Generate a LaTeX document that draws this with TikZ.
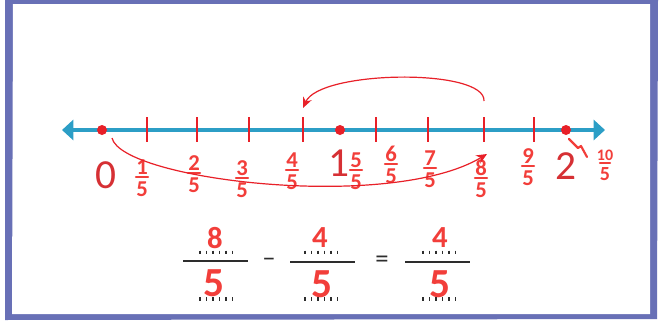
\documentclass[tikz,border=0pt]{standalone}
\usepackage{fontspec}
\setmainfont{Carlito}
\usetikzlibrary{arrows.meta}
\definecolor{framepurple}{RGB}{104,112,182}
\definecolor{axisblue}{RGB}{44,158,198}
\definecolor{dotred}{RGB}{232,32,40}
\definecolor{labred}{RGB}{214,48,52}
\definecolor{handred}{RGB}{242,62,58}
\definecolor{inkgray}{RGB}{45,45,45}
\begin{document}
\begin{tikzpicture}[x=0.75pt,y=-0.75pt,
  tickmark/.style={draw=dotred, line width=2pt},
  dotnode/.style={circle, fill=dotred, inner sep=0pt, minimum size=7.5pt},
  bignum/.style={text=labred, font=\fontsize{31}{31}\selectfont, inner sep=0pt},
  fracdig/.style={text=handred, font=\bfseries\fontsize{17}{17}\selectfont, inner sep=0pt},
  fracbar/.style={draw=handred, line width=1.7pt, line cap=round},
  jump/.style={draw=dotred, line width=0.9pt, -{Stealth[length=8pt,width=7pt]}},
  eqnum/.style={text=handred, font=\bfseries\fontsize{23}{23}\selectfont, inner sep=0pt},
  eqden/.style={text=handred, font=\bfseries\fontsize{31}{31}\selectfont, inner sep=0pt},
  eqbar/.style={draw=inkgray, line width=1.1pt},
  eqsign/.style={text=inkgray, font=\fontsize{20}{20}\selectfont, inner sep=0pt},
  blankmark/.style={draw=inkgray, line width=1.3pt}
]
\useasboundingbox (0,0) rectangle (672,322);
% frame
\fill[framepurple] (5,0) -- (658,0) -- (657,319) -- (5,320) -- cycle;
\fill[white] (13,4) -- (650,4) -- (650,314) -- (12,314) -- cycle;

% axis
\coordinate (axl) at (62,130);
\coordinate (axr) at (605,130);
\draw[axisblue, line width=2.3pt, {Triangle[length=8.5pt,width=15pt]}-{Triangle[length=8.5pt,width=15pt]}] (axl) -- (axr);

% ticks
\foreach \i/\x in {1/147,2/197,3/249,4/303,6/376,7/428,8/484,9/534}{
  \draw[tickmark] (\x,117) -- (\x,142);
  \coordinate (t\i) at (\x,117);
}
% dots
\node[dotnode] (p0) at (102,130) {};
\node[dotnode] (p1) at (340,130) {};
\node[dotnode] (p2) at (566,130) {};

% whole-number labels
\node[bignum] (l0) at (106,175) {0};
\node[bignum] (l1) at (339,163) {1};
\node[bignum] (l2) at (566,166) {2};

% handwritten fractions on the line
\foreach \n/\x/\b in {1/142/177,2/194/173,3/242/178,4/292/170,5/356/170,6/391/164,7/430/168,8/481/178,9/528/166}{
  \node[fracdig] (fn\n) at (\x,\b-10) {\n};
  \draw[fracbar] (\x-6,\b) -- (\x+6,\b);
  \node[fracdig] (fd\n) at (\x,\b+12) {5};
}
\node[fracdig, font=\bfseries\fontsize{12}{12}\selectfont] (fn10) at (605,155) {10};
\draw[fracbar] (600,163) -- (610,163);
\node[fracdig, font=\bfseries\fontsize{15}{15}\selectfont] (fd10) at (605,174) {5};
% squiggle under 2
\draw[handred, line width=1.6pt, line cap=round, line join=round] (569,139) -- (578,148) -- (581,146) -- (587,157);

% jumps
\coordinate (a0) at (112,138);
\coordinate (a1) at (487,154);
\draw[jump] (a0) .. controls (122,180) and (390,212) .. (a1);
\coordinate (b0) at (484,101);
\coordinate (b1) at (303,108);
\draw[jump] (b0) .. controls (486,68) and (320,70) .. (b1);

% equation
\newcommand{\blankrow}[2]{%
  \foreach \k in {0,...,5}{\draw[blankmark] (#1+\k*6.5,#2-1.8) -- (#1+\k*6.5,#2+1.8);}}
\node[eqnum] (n1) at (215,238) {8};
\blankrow{200}{252.5}
\draw[eqbar] (183,261) -- (248,261);
\node[eqden] (d1) at (214,283) {5};
\blankrow{200}{299}

\node[eqsign] (minus) at (269,262) {–};

\node[eqnum] (n2) at (320,238) {4};
\blankrow{305}{252.5}
\draw[eqbar] (290,262) -- (355,262);
\node[eqden] (d2) at (322,284) {5};
\blankrow{305}{299}

\node[eqsign] (eq) at (382,262) {=};

\node[eqnum] (n3) at (440,238) {4};
\blankrow{423}{252.5}
\draw[eqbar] (405,262) -- (470,262);
\node[eqden] (d3) at (440,284) {5};
\blankrow{423}{299}
\end{tikzpicture}
\end{document}
